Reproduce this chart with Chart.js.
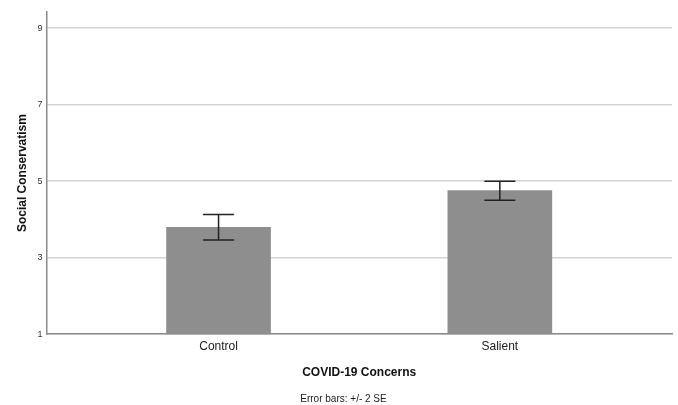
<!DOCTYPE html>
<html>
<head>
<meta charset="utf-8">
<script src="https://cdn.jsdelivr.net/npm/chart.js@4"></script>
<style>
  html, body { margin: 0; padding: 0; background: #fff; }
  #wrap { width: 678px; height: 405px; }
</style>
</head>
<body>
<div id="wrap"><canvas id="barChart"></canvas></div>
<script>
// Group means and +/- 2 SE bounds
const categories = ['Control', 'Salient'];
const means = [3.79, 4.75];
const errLow = [3.46, 4.50];
const errHigh = [4.13, 5.00];
const yTicks = [1, 3, 5, 7, 9];

const FONT = 'Arial, "Liberation Sans", sans-serif';

// Draws the error bar whiskers on top of each bar
const errorBarPlugin = {
    id: 'errorBars',
    afterDatasetsDraw(chart) {
        const ctx = chart.ctx;
        const xs = chart.scales.x;
        const ys = chart.scales.y;
        ctx.save();
        ctx.strokeStyle = '#222';
        ctx.lineWidth = 1.5;
        categories.forEach((c, i) => {
            const x = xs.getPixelForValue(i + 1);
            const top = ys.getPixelForValue(errHigh[i]);
            const bot = ys.getPixelForValue(errLow[i]);
            const half = 15.5;
            ctx.beginPath();
            ctx.moveTo(x, top);
            ctx.lineTo(x, bot);
            ctx.moveTo(x - half, top);
            ctx.lineTo(x + half, top);
            ctx.moveTo(x - half, bot);
            ctx.lineTo(x + half, bot);
            ctx.stroke();
        });
        ctx.restore();
    }
};

new Chart(document.getElementById('barChart').getContext('2d'), {
    type: 'bar',
    data: {
        datasets: [{
            data: categories.map((c, i) => ({ x: i + 1, y: means[i] })),
            backgroundColor: '#8e8e8e',
            borderWidth: 0,
            barThickness: 104
        }]
    },
    options: {
        responsive: true,
        maintainAspectRatio: false,
        animation: false,
        layout: { padding: { top: 12, right: 6, left: 15, bottom: 0 } },
        scales: {
            x: {
                type: 'linear',
                offset: false,
                min: 0.388,
                max: 2.612,
                afterBuildTicks: axis => {
                    axis.ticks = categories.map((c, i) => ({ value: i + 1 }));
                },
                ticks: {
                    color: '#222',
                    font: { family: FONT, size: 12 },
                    padding: 5,
                    callback: v => categories[v - 1]
                },
                grid: { display: false, drawTicks: false },
                border: { display: true, color: '#8a8a8a', width: 1.5 },
                title: {
                    display: true,
                    text: 'COVID-19 Concerns',
                    color: '#111',
                    font: { family: FONT, size: 12, weight: 'bold' },
                    padding: { top: 7, bottom: 0 }
                }
            },
            y: {
                min: 1,
                max: 9.42,
                afterBuildTicks: axis => {
                    axis.ticks = yTicks.map(v => ({ value: v }));
                },
                ticks: {
                    color: '#333',
                    font: { family: FONT, size: 9 },
                    padding: 4
                },
                grid: { color: '#d4d4d4', lineWidth: 1.5, drawTicks: false },
                border: { display: true, color: '#8a8a8a', width: 1.5 },
                title: {
                    display: true,
                    text: 'Social Conservatism',
                    color: '#111',
                    font: { family: FONT, size: 12, weight: 'bold' },
                    padding: { top: 0, bottom: 4 }
                }
            }
        },
        plugins: {
            legend: { display: false },
            tooltip: { enabled: false },
            title: {
                display: true,
                position: 'bottom',
                text: 'Error bars: +/- 2 SE',
                color: '#222',
                font: { family: FONT, size: 10, weight: 'normal' },
                padding: { top: 13, bottom: 0 }
            }
        }
    },
    plugins: [errorBarPlugin]
});
</script>
</body>
</html>
